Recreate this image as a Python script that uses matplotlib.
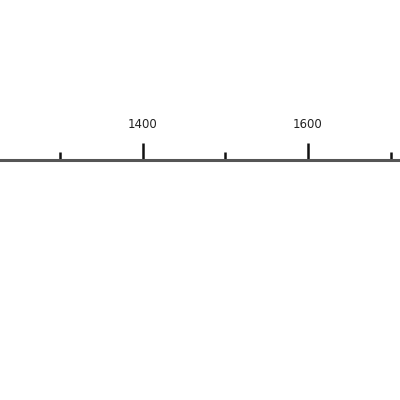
import matplotlib
matplotlib.use("Agg")
import matplotlib.pyplot as plt

major_ticks = [1400, 1600]
tick_labels = ["1400", "1600"]
minor_ticks = [1300, 1500, 1700]
x_range = [1226.7, 1711.5]

fig = plt.figure(figsize=(4, 4), dpi=100)
ax = fig.add_axes([0, 0.1, 1, 0.5])
for s in ["left", "right", "bottom"]:
    ax.spines[s].set_visible(False)
ax.spines["top"].set_linewidth(2.2)
ax.spines["top"].set_color("#555555")
ax.xaxis.tick_top()
ax.set_xticks(major_ticks)
ax.set_xticklabels(tick_labels, fontsize=8.5, color="#222222")
ax.set_xticks(minor_ticks, minor=True)
ax.tick_params(axis="x", which="major", direction="out", length=12, width=1.8, color="#111111", pad=9)
ax.tick_params(axis="x", which="minor", direction="out", length=6, width=1.8, color="#111111")
ax.set_yticks([])
ax.set_xlim(*x_range)
ax.set_ylim(0, 1)
fig.savefig("out.png", dpi=100)
